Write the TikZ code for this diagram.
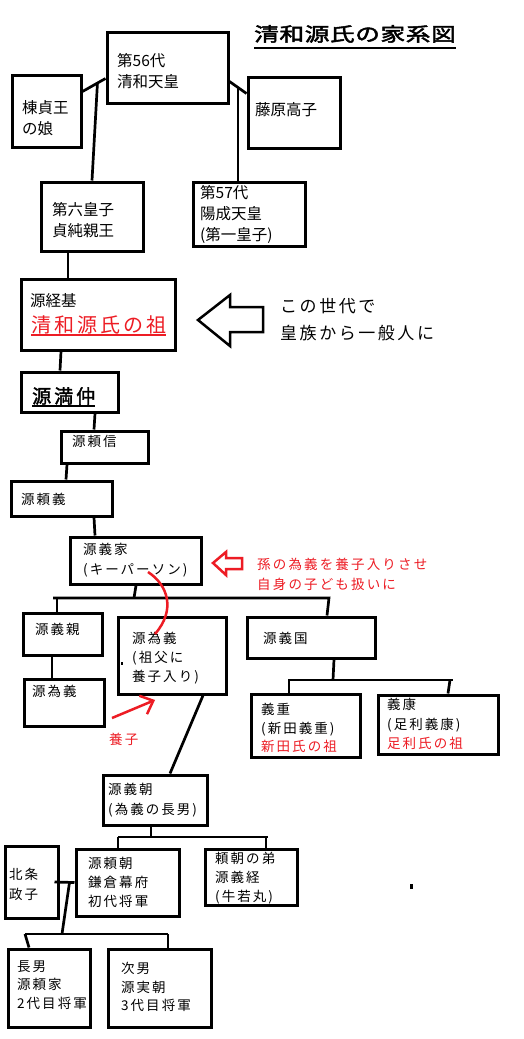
\documentclass[tikz,border=0pt]{standalone}
\usepackage{fontspec}
\usepackage{tikz}
\usetikzlibrary{positioning, arrows.meta}
\definecolor{kred}{HTML}{ED1C24}
\newfontfamily\jp{Noto Sans CJK JP}
\newfontfamily\jpsp{Noto Sans CJK JP}[LetterSpace=15]
\newfontfamily\jpred{Noto Sans CJK JP}[LetterSpace=16]
\newfontfamily\jpnote{Noto Sans CJK JP}[LetterSpace=15]
\newfontfamily\jpsoso{Noto Sans CJK JP}[LetterSpace=15]
\newfontfamily\jphead{Noto Sans CJK JP}[FakeBold=2.5, FakeStretch=1.3, LetterSpace=3]
\newfontfamily\jpbold{Noto Sans CJK JP}[FakeBold=2, LetterSpace=16]

\tikzset{
  famrect/.style={draw, line width=3pt, inner sep=0pt, anchor=north west},
  link/.style={line width=2.7pt},
  redlink/.style={line width=2.5pt, draw=kred},
  bigtxt/.style={anchor=north west, inner sep=0pt, align=left, font=\jp\fontsize{15.5}{21}\selectfont},
  txt/.style={anchor=north west, inner sep=0pt, align=left, font=\jpsp\fontsize{13.5}{19.5}\selectfont},
  redtxt/.style={txt, text=kred, font=\jpred\fontsize{13.5}{20}\selectfont},
}

\begin{document}
\begin{tikzpicture}[x=1pt, y=-1pt]
  \useasboundingbox[fill=white] (0,0) rectangle (523,1039);

  % title
  \node[anchor=north west, inner sep=0pt, font=\jphead\fontsize{19}{19}\selectfont] (title) at (254,25) {清和源氏の家系図};
  \draw[line width=2pt] ([yshift=-5]title.south west) -- ([yshift=-5]title.south east);

  % emperors
  \node[famrect, minimum width=121, minimum height=71] (seiwa) at (105.5,30.5) {};
  \node[bigtxt] (seiwaT) at (117,53) {第56代\\清和天皇};
  \node[famrect, minimum width=69, minimum height=72] (mune) at (10.5,73.5) {};
  \node[bigtxt] (muneT) at (22,100) {棟貞王\\の娘};
  \node[famrect, minimum width=92, minimum height=71] (fuji) at (246.5,75.5) {};
  \node[bigtxt] (fujiT) at (255,102) {藤原高子};
  \node[famrect, minimum width=102, minimum height=69] (sadazumi) at (39.5,180.5) {};
  \node[bigtxt] (sadazumiT) at (52,202) {第六皇子\\貞純親王};
  \node[famrect, minimum width=112, minimum height=64] (yozei) at (191.5,180.5) {};
  \node[bigtxt] (yozeiT) at (200,185) {第57代\\陽成天皇\\(第一皇子)};

  \draw[link] ([yshift=-18]mune.north east) -- coordinate[pos=.65] (seiwaL) ([yshift=-48]seiwa.north west);
  \draw[link] (seiwaL) -- (sadazumi.north);
  \draw[link] ([yshift=-51]seiwa.north east) -- coordinate[pos=.5] (seiwaR) ([yshift=-18]fuji.north west);
  \draw[link] (seiwaR) -- (seiwaR |- yozei.north);

  % Tsunemoto
  \node[famrect, minimum width=154, minimum height=71] (tsune) at (19.5,277.5) {};
  \node[bigtxt] (tsuneT) at (30,293) {源経基};
  \node[anchor=north west, inner sep=0pt, text=kred, font=\jpsoso\fontsize{20}{20}\selectfont] (kiyoT) at (31,315) {清和源氏の祖};
  \draw[kred, line width=2pt] ([yshift=-1]kiyoT.south west) -- ([yshift=-1]kiyoT.south east);
  \draw[link] (sadazumi.south -| 68,0) -- (tsune.north -| 68,0);

  \draw[line width=2.5pt] (198,320) -- (230,295) -- (230,307) -- (263,307) -- (263,332) -- (230,332) -- (230,346) -- cycle;
  \node[anchor=north west, inner sep=0pt, align=left, font=\jpnote\fontsize{17}{27}\selectfont] (genT) at (280,298) {この世代で\\皇族から一般人に};

  % Mitsunaka to Yoshiie
  \node[famrect, minimum width=97, minimum height=40] (mitsu) at (19.5,370.5) {};
  \node[anchor=north west, inner sep=0pt, font=\jpbold\fontsize{19}{19}\selectfont] (mitsuT) at (32,387) {源満仲};
  \draw[line width=2pt] ([yshift=-1]mitsuT.south west) -- ([yshift=-1]mitsuT.south east);
  \node[famrect, minimum width=87, minimum height=32] (yorinobu) at (59.5,429.5) {};
  \node[txt] (yorinobuT) at (72,435) {源頼信};
  \node[famrect, minimum width=101, minimum height=35] (yoriyoshi) at (9.5,479.5) {};
  \node[txt] (yoriyoshiT) at (21,493) {源頼義};
  \node[famrect, minimum width=131, minimum height=47] (ie) at (68.5,535.5) {};
  \node[txt] (ieT) at (83,543) {源義家\\(キーパーソン)};

  \draw[link] (tsune.south -| 61,0) -- (mitsu.north -| 60,0);
  \draw[link] (mitsu.south -| 95,0) -- (yorinobu.north -| 94,0);
  \draw[link] (yorinobu.south -| 67,0) -- (yoriyoshi.north -| 66,0);
  \draw[link] (yoriyoshi.south -| 94,0) -- (ie.north -| 95,0);

  \draw[kred, line width=2.5pt] (213,563) -- (226,552) -- (226,558) -- (242,558) -- (242,569) -- (226,569) -- (226,575) -- cycle;
  \node[redtxt] (adoptT) at (257,558) {孫の為義を養子入りさせ\\自身の子ども扱いに};

  % children of Yoshiie
  \node[famrect, minimum width=79, minimum height=42] (chika) at (21.5,611.5) {};
  \node[txt] (chikaT) at (35,623) {源義親};
  \node[famrect, minimum width=80, minimum height=47] (tame1) at (22.5,677.5) {};
  \node[txt] (tame1T) at (32,685) {源為義};
  \node[famrect, minimum width=108, minimum height=77] (tame2) at (116.5,615.5) {};
  \node[txt, font=\jpsp\fontsize{13.5}{19}\selectfont] (tame2T) at (132,632) {源為義\\(祖父に\\養子入り)};
  \node[famrect, minimum width=128, minimum height=41] (kuni) at (245.5,615.5) {};
  \node[txt] (kuniT) at (263,632) {源義国};
  \node[famrect, minimum width=109, minimum height=63] (shige) at (249.5,692.5) {};
  \node[txt, font=\jpsp\fontsize{13.5}{18.5}\selectfont] (shigeT) at (261,703) {義重\\(新田義重)\\\textcolor{kred}{新田氏の祖}};
  \node[famrect, minimum width=120, minimum height=59] (yasu) at (376.5,693.5) {};
  \node[txt] (yasuT) at (387,698) {義康\\(足利義康)\\\textcolor{kred}{足利氏の祖}};

  \coordinate (ieBusL) at (53,598);
  \coordinate (ieBusR) at (329,598);
  \draw[link] (ie.south -| 136,0) -- (ieBusL -| 134,0);
  \draw[link] (ieBusL) -- (ieBusR) -- (kuni.north -| 327,0);
  \draw[link] (ieBusL -| 57,0) -- (chika.north -| 57,0);
  \draw[link] (chika.south -| 52,0) -- (tame1.north -| 52,0);

  \coordinate (kuniBusL) at (288,680);
  \coordinate (kuniBusR) at (453,680);
  \draw[link] (kuni.south -| 334,0) -- (kuniBusL -| 333,0);
  \draw[link] (kuniBusL) -- (kuniBusR);
  \draw[link] (kuniBusL -| 289,0) -- (shige.north -| 289,0);
  \draw[link] (kuniBusR -| 450,0) -- (yasu.north -| 448,0);

  % adoption marks
  \coordinate (adoptA) at (148,572);
  \coordinate (adoptB) at (155,634);
  \draw[redlink] (adoptA) .. controls (168,585) and (176,610) .. (adoptB);
  \coordinate (yoshiA) at (112,718);
  \coordinate (yoshiB) at (155,700);
  \draw[redlink, -{Straight Barb[length=11pt, width=20pt]}] (yoshiA) -- (yoshiB);
  \node[redtxt] (yoshiT) at (109,733) {養子};
  \fill (121,662) rectangle (123,665);

  % Yoshitomo and sons
  \node[famrect, minimum width=104, minimum height=50] (tomo) at (101.5,773.5) {};
  \node[txt] (tomoT) at (108,783) {源義朝\\(為義の長男)};
  \draw[link] (tame2.south -| 203,0) -- (tomo.north -| 170,0);

  \node[famrect, minimum width=103, minimum height=67] (yoritomo) at (74.5,847.5) {};
  \node[txt, font=\jpsp\fontsize{13.5}{19}\selectfont] (yoritomoT) at (88,857) {源頼朝\\鎌倉幕府\\初代将軍};
  \node[famrect, minimum width=92, minimum height=56] (yoshitsune) at (203.5,847.5) {};
  \node[txt, font=\jpsp\fontsize{13.5}{19}\selectfont] (yoshitsuneT) at (215,852) {頼朝の弟\\源義経\\(牛若丸)};
  \node[famrect, minimum width=53, minimum height=72] (masako) at (3.5,844.5) {};
  \node[txt, font=\jpsp\fontsize{13.5}{20}\selectfont] (masakoT) at (9,868) {北条\\政子};

  \coordinate (tomoBusL) at (118,837);
  \coordinate (tomoBusR) at (268,837);
  \draw[link] (tomo.south -| 151,0) -- (tomoBusL -| 151,0);
  \draw[link] (tomoBusL) -- (tomoBusR);
  \draw[link] (tomoBusL) -- (yoritomo.north -| 118,0);
  \draw[link] (tomoBusR -| 266,0) -- (yoshitsune.north -| 266,0);
  \fill (410,884) rectangle (413,889);

  \node[famrect, minimum width=82, minimum height=78] (yoriie) at (6.5,947.5) {};
  \node[txt, font=\jpsp\fontsize{13.5}{18.5}\selectfont] (yoriieT) at (17,960) {長男\\源頼家\\2代目将軍};
  \node[famrect, minimum width=103, minimum height=78] (sanetomo) at (106.5,947.5) {};
  \node[txt, font=\jpsp\fontsize{13.5}{18.5}\selectfont] (sanetomoT) at (121,962) {次男\\源実朝\\3代目将軍};

  \draw[link] ([xshift=-5]masako.east) -- coordinate[pos=.75] (masakoJ) (yoritomo.west);
  \coordinate (yoriBusL) at (25,934);
  \coordinate (yoriBusR) at (168,934);
  \draw[link] (masakoJ) -- (yoriBusL -| 62,0);
  \draw[link] (yoriBusL) -- (yoriBusR);
  \draw[link] (yoriBusL) -- (yoriie.north -| 29,0);
  \draw[link] (yoriBusR) -- (sanetomo.north -| 168,0);
\end{tikzpicture}
\end{document}
